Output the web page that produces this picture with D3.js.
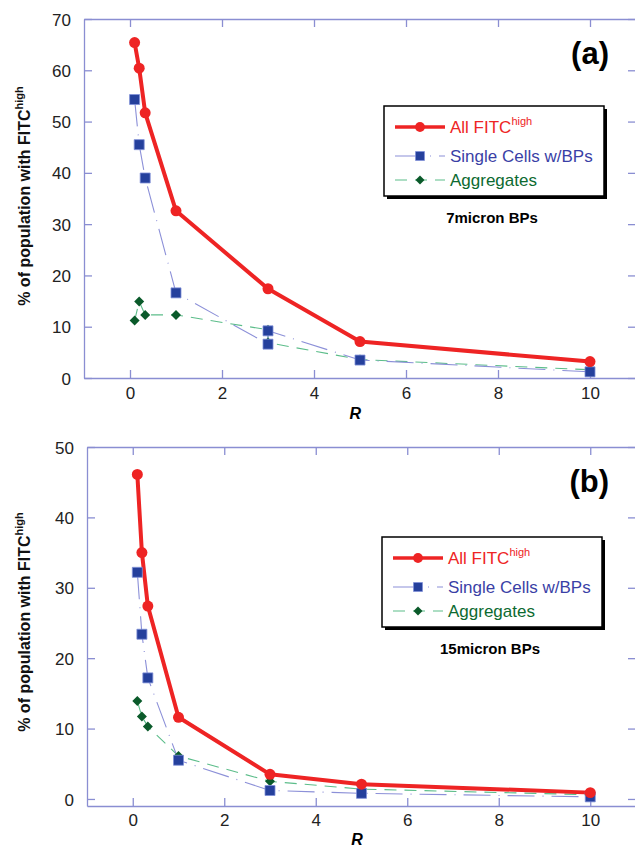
<!DOCTYPE html>
<html>
<head>
<meta charset="utf-8">
<script src="https://cdn.jsdelivr.net/npm/d3@7"></script>
<style>
  body { margin: 0; background: #fff; }
  svg { display: block; font-family: "Liberation Sans", Arial, sans-serif; }
</style>
</head>
<body>
<div class="figure"></div>
<script>
// panel (a): 7 micron BPs
const rA = [0.1, 0.2, 0.33, 1, 3, 5, 10];
const allFitcA = [65.4, 60.4, 51.7, 32.6, 17.4, 7.1, 3.2];
const rSplitA = [0.1, 0.2, 0.33, 1, 3, 3, 5, 10];
const singleCellsA = [54.3, 45.5, 39.0, 16.6, 6.6, 9.2, 3.5, 1.2];
const aggregatesA = [11.2, 14.9, 12.3, 12.3, 9.4, 6.9, 3.6, 1.6];

// panel (b): 15 micron BPs
const rB = [0.1, 0.2, 0.33, 1, 3, 5, 10];
const allFitcB = [46.1, 35.0, 27.4, 11.6, 3.5, 2.1, 0.9];
const singleCellsB = [32.2, 23.4, 17.2, 5.5, 1.2, 0.8, 0.3];
const aggregatesB = [13.9, 11.7, 10.3, 6.1, 2.5, 1.4, 0.6];

const xTicks = [0, 2, 4, 6, 8, 10];
const yTicksA = [0, 10, 20, 30, 40, 50, 60, 70];
const yTicksB = [0, 10, 20, 30, 40, 50];
const legendLabels = ["All FITC", "Single Cells w/BPs", "Aggregates"];

const frameColor = "#8a8ed2";
const red = "#ee2424";
const blueMark = "#25409c", blueLine = "#8c90d8";
const greenMark = "#0a5a2a", greenLine = "#5cbd8a";

const svg = d3.select(".figure").append("svg")
  .attr("width", 635).attr("height", 848);

function drawPanel(p) {
  const x = d3.scaleLinear().domain([-1, 11]).range([p.left, p.right]);
  const y = d3.scaleLinear().domain(p.yDomain).range([p.bottom, p.top]);
  const g = svg.append("g");

  // frame + inward ticks
  const bottomAxis = g.append("g").attr("transform", `translate(0,${p.bottom})`)
    .call(d3.axisBottom(x).tickValues(xTicks).tickSize(-8).tickSizeOuter(0).tickPadding(13));
  const topAxis = g.append("g").attr("transform", `translate(0,${p.top})`)
    .call(d3.axisTop(x).tickValues(xTicks).tickSize(-8).tickSizeOuter(0).tickFormat(""));
  const leftAxis = g.append("g").attr("transform", `translate(${p.left},0)`)
    .call(d3.axisLeft(y).tickValues(p.yTicks).tickSize(-8).tickSizeOuter(0).tickPadding(13));
  const rightAxis = g.append("g").attr("transform", `translate(${p.right},0)`)
    .call(d3.axisRight(y).tickValues(p.yTicks).tickSize(-8).tickSizeOuter(0).tickFormat(""));
  [bottomAxis, topAxis, leftAxis, rightAxis].forEach(a => {
    a.selectAll("path, line").attr("stroke", frameColor).attr("stroke-width", 1.3);
    a.selectAll("text").attr("font-size", 17).attr("fill", "#222")
      .attr("font-family", "Liberation Sans, Arial, sans-serif");
  });
  bottomAxis.selectAll("text").attr("dy", null).attr("y", p.tickLabelY - p.bottom);
  leftAxis.selectAll("text").attr("dy", "0.36em");

  // axis titles
  g.append("text")
    .attr("x", x(4.9)).attr("y", p.rLabelY)
    .attr("text-anchor", "middle")
    .attr("font-size", 16).attr("font-weight", "bold").attr("font-style", "italic")
    .text("R");

  const yt = g.append("text")
    .attr("transform", `translate(30,${p.yTitleY}) rotate(-90)`)
    .attr("text-anchor", "middle")
    .attr("font-size", 16).attr("font-weight", "bold").attr("fill", "#111");
  yt.append("tspan").text("% of population with FITC");
  yt.append("tspan").attr("font-size", 11).attr("dy", -7).text("high");

  // series
  const series = [
    { xs: p.rAll, ys: p.all, color: red, width: 4, dash: null, mark: "circle" },
    { xs: p.rSingle, ys: p.single, color: blueLine, width: 1.1, dash: "27,8,1,8", mark: "square" },
    { xs: p.rAgg, ys: p.agg, color: greenLine, width: 1.1, dash: "12,8", mark: "diamond" }
  ];

  const line = d3.line().x(d => x(d[0])).y(d => y(d[1]));

  // draw lines first (bottom to top: green, blue, red)
  series.slice().reverse().forEach(s => {
    const pts = s.xs.map((v, i) => [v, s.ys[i]]);
    g.append("path").datum(pts)
      .attr("fill", "none").attr("stroke", s.color)
      .attr("stroke-width", s.width)
      .attr("stroke-dasharray", s.dash)
      .attr("stroke-linejoin", "round")
      .attr("d", line);
  });

  series.slice().reverse().forEach(s => {
    const pts = s.xs.map((v, i) => [v, s.ys[i]]);
    drawMarks(g, pts, s.mark, x, y);
  });

  // panel tag
  g.append("text")
    .attr("x", 609).attr("y", p.tagY)
    .attr("text-anchor", "end")
    .attr("font-size", 31).attr("font-weight", "bold")
    .text(p.tag);

  // legend
  const lg = g.append("g").attr("transform", `translate(${p.legendX},${p.legendY})`);
  lg.append("rect").attr("x", 3).attr("y", 3).attr("width", 220).attr("height", 90).attr("fill", "#000");
  lg.append("rect").attr("x", 0).attr("y", 0).attr("width", 220).attr("height", 90)
    .attr("fill", "#fff").attr("stroke", "#000").attr("stroke-width", 1.5);

  const rowY = [21, 50, 74];
  const textColors = [red, "#3a3fa6", "#0c6a30"];
  series.forEach((s, i) => {
    lg.append("line")
      .attr("x1", 11).attr("x2", 61).attr("y1", rowY[i]).attr("y2", rowY[i])
      .attr("stroke", s.color).attr("stroke-width", s.width === 4 ? 3.5 : 1.1)
      .attr("stroke-dasharray", s.dash);
    const lx = d3.scaleLinear().domain([0, 1]).range([36, 37]);
    const ly = d3.scaleLinear().domain([0, 1]).range([rowY[i], rowY[i] - 1]);
    drawMarks(lg, [[0, 0]], s.mark, lx, ly, 0.8);
    const t = lg.append("text")
      .attr("x", 66).attr("y", rowY[i] + 6)
      .attr("font-size", 17).attr("fill", textColors[i]);
    t.append("tspan").text(legendLabels[i]);
    if (i === 0) t.append("tspan").attr("font-size", 11).attr("dy", -8).text("high");
  });

  g.append("text")
    .attr("x", p.legendX + 108).attr("y", p.noteY)
    .attr("text-anchor", "middle")
    .attr("font-size", 15).attr("font-weight", "bold")
    .text(p.note);
}

function drawMarks(g, pts, kind, x, y, scale = 1) {
  const sel = g.append("g").selectAll("path").data(pts).join("path")
    .attr("transform", d => `translate(${x(d[0])},${y(d[1])})`);
  if (kind === "circle") {
    sel.attr("d", d3.symbol(d3.symbolCircle, 95 * scale)()).attr("fill", red);
  } else if (kind === "square") {
    sel.attr("d", d3.symbol(d3.symbolSquare, 100 * scale)())
      .attr("fill", blueMark).attr("stroke", "#7f8fd8").attr("stroke-width", 0.8);
  } else {
    sel.attr("d", d3.symbol(d3.symbolSquare, 50 * scale)())
      .attr("transform", d => `translate(${x(d[0])},${y(d[1])}) rotate(45)`)
      .attr("fill", greenMark);
  }
}

drawPanel({
  left: 84, right: 636, top: 19, bottom: 378,
  yDomain: [0, 70], yTicks: yTicksA,
  rAll: rA, all: allFitcA,
  rSingle: rSplitA, single: singleCellsA,
  rAgg: rSplitA, agg: aggregatesA,
  tickLabelY: 399, rLabelY: 419, yTitleY: 196,
  tag: "(a)", tagY: 64,
  legendX: 384, legendY: 106,
  note: "7micron BPs", noteY: 223
});

drawPanel({
  left: 87, right: 636, top: 447, bottom: 806,
  yDomain: [-1, 50], yTicks: yTicksB,
  rAll: rB, all: allFitcB,
  rSingle: rB, single: singleCellsB,
  rAgg: rB, agg: aggregatesB,
  tickLabelY: 826, rLabelY: 845, yTitleY: 622,
  tag: "(b)", tagY: 492,
  legendX: 382, legendY: 537,
  note: "15micron BPs", noteY: 654
});
</script>
</body>
</html>
